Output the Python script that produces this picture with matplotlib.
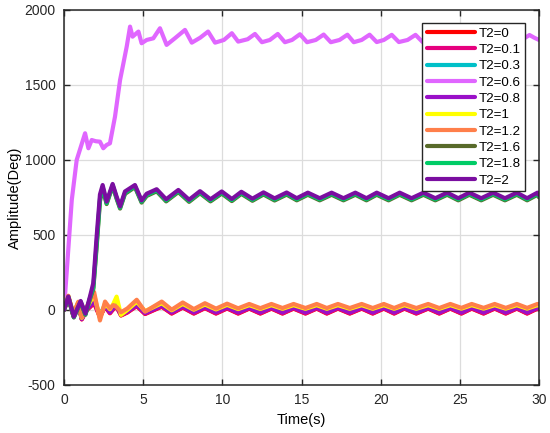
import matplotlib
matplotlib.use('Agg')
import matplotlib.pyplot as plt

plt.rcParams['font.family'] = ['Liberation Sans', 'DejaVu Sans']
plt.rcParams['axes.unicode_minus'] = False

# ---- data ----
labels = ['T2=0', 'T2=0.1', 'T2=0.3', 'T2=0.6', 'T2=0.8',
          'T2=1', 'T2=1.2', 'T2=1.6', 'T2=1.8', 'T2=2']
colors = ['#ff0000', '#e6007e', '#00c0c8', '#e066ff', '#9a10c8',
          '#ffff00', '#ff7f4a', '#586a2a', '#00cc66', '#7a0ea0']

# T2=0.6 (large response)
t_pink = [0, 0.49, 0.8, 1.0, 1.33, 1.54, 1.75, 2.0, 2.27, 2.48, 2.69, 2.9,
          3.22, 3.54, 3.75, 3.96, 4.17, 4.33, 4.7, 4.9, 5.22, 5.64, 6.06, 6.48,
          7.0, 7.64, 8.07, 8.6, 9.1, 9.54, 10.1, 10.6, 11.0, 11.6, 12.06, 12.5,
          13.0, 13.5, 13.95, 14.4, 14.9, 15.35, 15.9, 16.4, 16.85, 17.4, 17.9,
          18.3, 18.8, 19.3, 19.75, 20.2, 20.7, 21.15, 21.7, 22.2, 22.65, 23.1,
          23.6, 24.1, 24.6, 25.1, 25.55, 26.0, 26.5, 27.0, 27.5, 28.0, 28.45,
          28.9, 29.4, 29.7, 30]
v_pink = [0, 733, 1000, 1067, 1178, 1078, 1133, 1125, 1122, 1078, 1100, 1111,
          1289, 1533, 1644, 1756, 1889, 1822, 1856, 1778, 1800, 1811, 1878, 1767,
          1811, 1867, 1782, 1815, 1856, 1782, 1800, 1845, 1789, 1805, 1840, 1785,
          1800, 1840, 1785, 1800, 1838, 1785, 1800, 1836, 1785, 1800, 1835,
          1785, 1800, 1835, 1786, 1800, 1834, 1786, 1800, 1834, 1786, 1800,
          1834, 1786, 1800, 1833, 1787, 1800, 1833, 1787, 1800, 1833, 1787,
          1800, 1833, 1815, 1800]

# upper group (T2=0.8 sits in the small group below)
t_up = [0, 0.27, 0.62, 1.05, 1.35, 1.64, 1.85, 2.06, 2.27, 2.44, 2.69, 3.07,
        3.32, 3.54, 3.85, 4.48, 4.9, 5.22, 5.85, 6.45, 7.22, 7.9, 8.59, 9.25,
        9.96, 10.6, 11.2, 11.9, 12.6, 13.3, 14.06, 14.7, 15.4, 16.15, 16.9,
        17.65, 18.4, 19.1, 19.75, 20.5, 21.2, 21.95, 22.7, 23.45, 24.2, 24.9,
        25.6, 26.35, 27.1, 27.85, 28.6, 29.25, 29.9, 30]
v_t2_2 = [0, 90, -45, 60, -25, 90, 180, 489, 770, 833, 722, 840,
          756, 690, 790, 833, 730, 775, 805, 738, 800, 735, 792, 738,
          790, 740, 788, 742, 784, 744, 783, 745, 782, 745, 782,
          745, 782, 745, 782, 745, 782, 745, 782, 745, 782, 745,
          782, 745, 782, 745, 782, 745, 782, 765]
v_t2_18 = [0, 85, -48, 55, -30, 80, 150, 440, 740, 820, 712, 832,
           748, 682, 780, 825, 722, 766, 797, 730, 792, 727, 784, 730,
           782, 732, 780, 734, 776, 736, 775, 737, 774, 737, 774,
           737, 774, 737, 774, 737, 774, 737, 774, 737, 774, 737,
           774, 737, 774, 737, 774, 737, 774, 757]
v_t2_16 = [0, 82, -50, 52, -32, 75, 140, 420, 725, 812, 706, 826,
           742, 676, 774, 819, 716, 760, 791, 724, 786, 721, 778, 724,
           776, 726, 774, 728, 770, 730, 769, 731, 768, 731, 768,
           731, 768, 731, 768, 731, 768, 731, 768, 731, 768, 731,
           768, 731, 768, 731, 768, 731, 768, 751]

# small group
t_low = [0, 0.27, 0.59, 0.9, 1.12, 1.43, 1.9, 2.27, 2.59, 2.9, 3.11, 3.32,
         3.6, 4.0, 4.59, 5.12, 6.17, 6.8, 7.5, 8.2, 8.9, 9.6, 10.3, 11.0,
         11.7, 12.4, 13.1, 13.8, 14.5, 15.25, 15.96, 16.6, 17.3, 18.05, 18.8,
         19.5, 20.2, 20.85, 21.5, 22.25, 23.0, 23.7, 24.4, 25.1, 25.75, 26.5,
         27.2, 27.9, 28.6, 29.25, 29.9, 30]
v_t2_12 = [0, 95, -25, 55, -50, 20, 120, -70, 56, 11, 33, 20,
           -15, 10, 68, -11, 56, 2, 50, 6, 45, 9, 42, 11,
           40, 12, 40, 13, 40, 13, 40, 13, 40, 13, 40,
           13, 40, 13, 40, 13, 40, 13, 40, 14, 40, 14,
           40, 14, 40, 14, 40, 38]
v_t2_1 = [0, 92, -28, 52, -52, 15, 100, -55, 45, 5, 40, 89,
          -33, 0, 55, -8, 45, -2, 40, 2, 36, 4, 34, 6,
          32, 7, 32, 8, 32, 8, 32, 8, 32, 8, 32,
          8, 32, 8, 32, 8, 32, 8, 32, 9, 32, 9,
          32, 9, 32, 9, 32, 30]
v_t2_08 = [0, 88, -35, 45, -58, 5, 60, -40, 30, -15, 15, 30,
           -30, -10, 35, -20, 30, -15, 25, -15, 20, -15, 18, -15,
           16, -15, 16, -16, 16, -16, 16, -16, 16, -16, 16,
           -16, 16, -16, 16, -16, 16, -16, 16, -16, 16, -16,
           16, -16, 16, -16, 16, 10]
v_t2_03 = [0, 90, -30, 48, -55, 10, 70, -35, 35, -10, 20, 35,
           -25, -5, 40, -15, 35, -10, 30, -10, 25, -11, 22, -11,
           20, -12, 20, -12, 20, -12, 20, -12, 20, -12, 20,
           -12, 20, -12, 20, -12, 20, -12, 20, -12, 20, -12,
           20, -12, 20, -12, 20, 14]
v_t2_01 = [0, 86, -38, 42, -62, 0, 50, -45, 25, -20, 8, 22,
           -35, -15, 28, -25, 24, -22, 18, -22, 14, -22, 12, -22,
           11, -22, 11, -22, 11, -22, 11, -22, 11, -22, 11,
           -22, 11, -22, 11, -22, 11, -22, 11, -22, 11, -22,
           11, -22, 11, -22, 11, 5]
v_t2_0 = [0, 85, -40, 40, -63, -2, 45, -48, 22, -22, 5, 20,
          -37, -17, 26, -27, 22, -24, 16, -24, 12, -24, 10, -24,
          9, -24, 9, -24, 9, -24, 9, -24, 9, -24, 9,
          -24, 9, -24, 9, -24, 9, -24, 9, -24, 9, -24,
          9, -24, 9, -24, 9, 3]

series = [(t_low, v_t2_0), (t_low, v_t2_01), (t_low, v_t2_03), (t_pink, v_pink),
          (t_low, v_t2_08), (t_low, v_t2_1), (t_low, v_t2_12), (t_up, v_t2_16),
          (t_up, v_t2_18), (t_up, v_t2_2)]

fig = plt.figure(figsize=(5.5, 4.33), dpi=100)
ax = fig.add_axes([0.1164, 0.1109, 0.8636, 0.8661])

for (t, v), lab, c in zip(series, labels, colors):
    ax.plot(t, v, color=c, lw=3.0, label=lab,
            solid_joinstyle='round', solid_capstyle='round')

ax.set_xlim(0, 30)
ax.set_ylim(-500, 2000)
ax.set_xticks([0, 5, 10, 15, 20, 25, 30])
ax.set_yticks([-500, 0, 500, 1000, 1500, 2000])
ax.grid(True, color='#dcdcdc', lw=0.9)
ax.set_axisbelow(True)
ax.tick_params(direction='in', top=True, right=True, labelsize=10,
               length=4, width=1, colors='#262626', pad=6)
for s in ax.spines.values():
    s.set_color('#262626')
    s.set_linewidth(1.1)

ax.set_xlabel('Time(s)', fontsize=10.5, labelpad=4)
ax.set_ylabel('Amplitude(Deg)', fontsize=10.5, labelpad=2)

leg = ax.legend(loc='upper right', bbox_to_anchor=(0.9705, 0.9653),
                borderaxespad=0, fontsize=9.6, handlelength=3.6,
                handletextpad=0.3, labelspacing=0.3, borderpad=0.32,
                fancybox=False, framealpha=1, edgecolor='#262626')
leg.get_frame().set_linewidth(1.0)

plt.savefig('out.png', dpi=100)
